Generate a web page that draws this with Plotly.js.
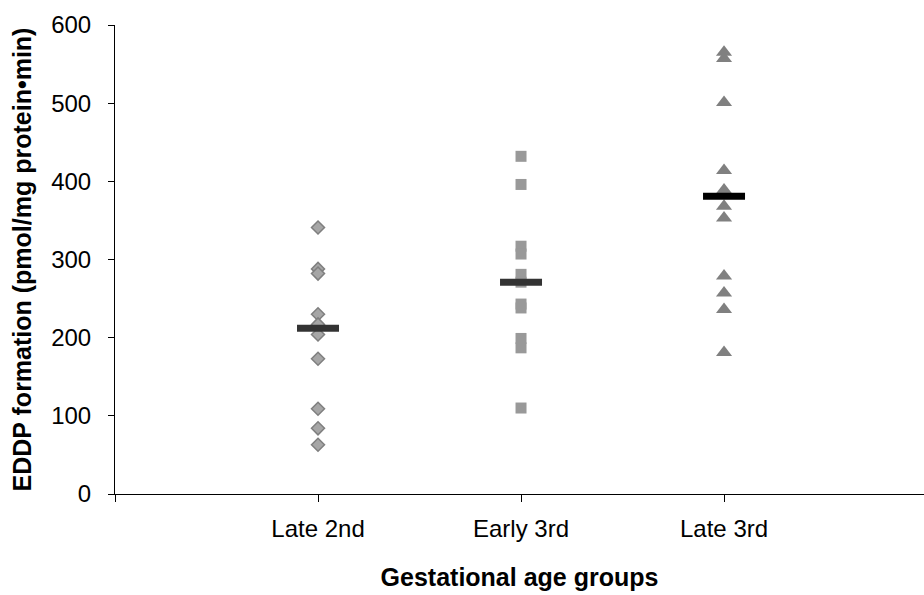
<!DOCTYPE html>
<html>
<head>
<meta charset="utf-8">
<script src="https://cdn.plot.ly/plotly-3.0.1.min.js"></script>
<style>html,body{margin:0;padding:0;background:#fff;}#chart{width:924px;height:595px;}</style>
</head>
<body>
<div id="chart"></div>
<script>
// Category positions and labels
var categories = ['Late 2nd', 'Early 3rd', 'Late 3rd'];
var categoryX = [1, 2, 3];

// EDDP formation values (pmol/mg protein•min) per group
var late2nd = [341, 288, 282, 230, 217, 204, 173, 109, 84, 63];
var early3rd = [432, 396, 317, 307, 281, 271, 243, 238, 199, 187, 110];
var late3rd = [565, 557, 501, 414, 389, 368, 353, 279, 257, 236, 181];

// Group central value (horizontal bars)
var groupBars = [212, 271, 381];

function rep(v, n) { var a = []; for (var i = 0; i < n; i++) a.push(v); return a; }

var font = 'Liberation Sans, Arial, sans-serif';

var traces = [
  {
    type: 'scatter', mode: 'markers', name: categories[0],
    x: rep(categoryX[0], late2nd.length), y: late2nd,
    marker: {symbol: 'diamond', size: 10, color: '#a6a6a6', line: {color: '#7f7f7f', width: 1.5}},
    hoverinfo: 'y'
  },
  {
    type: 'scatter', mode: 'markers', name: categories[1],
    x: rep(categoryX[1], early3rd.length), y: early3rd,
    marker: {symbol: 'square', size: 11, color: '#999999', line: {width: 0}},
    hoverinfo: 'y'
  },
  {
    type: 'scatter', mode: 'markers', name: categories[2],
    x: rep(categoryX[2], late3rd.length), y: late3rd,
    marker: {symbol: 'triangle-up', size: 14, color: '#808080', line: {width: 0}},
    hoverinfo: 'y'
  },
  {
    type: 'scatter', mode: 'markers', name: 'group',
    x: categoryX, y: groupBars,
    marker: {symbol: 'line-ew', size: 30, color: ['#333333', '#333333', '#000000'],
             line: {color: ['#333333', '#333333', '#000000'], width: 7}},
    hoverinfo: 'y'
  }
];

var layout = {
  width: 924, height: 595,
  margin: {l: 115, r: 0, t: 25, b: 101},
  paper_bgcolor: '#ffffff', plot_bgcolor: '#ffffff',
  showlegend: false,
  font: {family: font, color: '#000000', size: 20},
  xaxis: {
    range: [0, 3.985],
    tickvals: [0].concat(categoryX),
    ticktext: [''].concat(categories),
    ticks: 'outside', ticklen: 7, tickcolor: '#000', tickwidth: 1,
    showline: true, linecolor: '#000', linewidth: 1,
    showgrid: false, zeroline: false,
    tickfont: {family: font, size: 24, color: '#000'},
    ticklabelstandoff: 6,
    title: {text: '<b>Gestational age groups</b>', font: {family: font, size: 25, color: '#000'}, standoff: 27}
  },
  yaxis: {
    range: [0, 600], dtick: 100, tick0: 0,
    ticks: 'outside', ticklen: 6, tickcolor: '#000', tickwidth: 1,
    showline: true, linecolor: '#000', linewidth: 1,
    showgrid: false, zeroline: false,
    tickfont: {family: font, size: 24, color: '#000'},
    ticklabelstandoff: 12,
    title: {text: '<b>EDDP formation (pmol/mg protein•min)</b>', font: {family: font, size: 25, color: '#000'}, standoff: 12}
  }
};

Plotly.newPlot('chart', traces, layout, {displayModeBar: false, staticPlot: true});
</script>
</body>
</html>
